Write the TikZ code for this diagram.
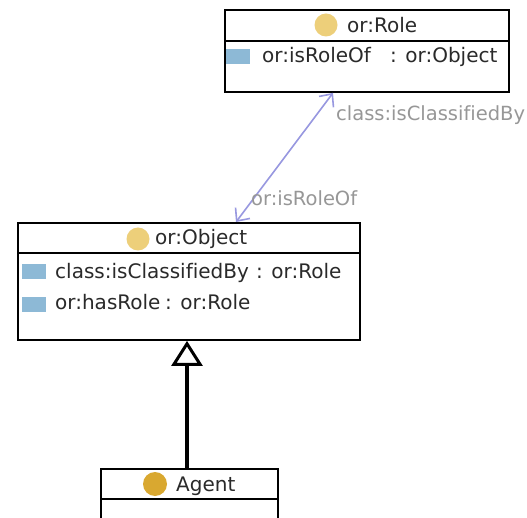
\documentclass[tikz,border=0pt]{standalone}
\usepackage{fontspec}
\setmainfont[Ligatures=NoCommon]{DejaVu Sans}
\usetikzlibrary{arrows.meta}
\definecolor{clsyel}{HTML}{EDCF7A}
\definecolor{agyel}{HTML}{D9A830}
\definecolor{attrblue}{HTML}{8DB9D6}
\definecolor{assoc}{HTML}{9898E0}
\definecolor{lblgray}{HTML}{979797}
\definecolor{txt}{HTML}{2A2A2A}
\begin{document}
\begin{tikzpicture}[x=1pt,y=-1pt,
  font=\fontsize{20}{24}\selectfont,
  classbox/.style={draw=black, line width=1.9pt, fill=white, inner sep=0pt, anchor=north west},
  divider/.style={draw=black, line width=1.9pt},
  clsicon/.style={circle, fill=clsyel, minimum size=23pt, inner sep=0pt},
  agicon/.style={circle, fill=agyel, minimum size=24pt, inner sep=0pt},
  attricon/.style={fill=attrblue, minimum width=24pt, minimum height=15pt, inner sep=0pt},
  txtnode/.style={anchor=base west, inner sep=0pt, text=txt},
  lbl/.style={anchor=base west, inner sep=0pt, text=lblgray, font=\fontsize{19.5}{24}\selectfont},
  assocline/.style={draw=assoc, line width=1.6pt, {Straight Barb[length=10pt,width=18pt]}-{Straight Barb[length=10pt,width=18pt]}},
  genline/.style={draw=black, line width=3.4pt, -{Triangle[open, length=25pt, width=31pt, line width=3pt]}}
]
\useasboundingbox (0,0) rectangle (527,518);
\clip (0,0) rectangle (527,518);
\fill[white] (0,0) rectangle (527,518);

% or:Role
\node[classbox, minimum width=284pt, minimum height=82pt] (role) at (224,9) {};
\draw[divider] (role.west |- 0,41) -- (role.east |- 0,41);
\node[clsicon] (roleicon) at (326,25) {};
\node[txtnode] (rolename) at (347,33) {or:Role};
\node[attricon] (ra1) at (238,57) {};
\node[txtnode] (ra1n) at (262,63) {or:isRoleOf};
\node[txtnode] (ra1t) at (390,63) {: or:Object};

% or:Object
\node[classbox, minimum width=342pt, minimum height=117pt] (obj) at (17,222) {};
\draw[divider] (obj.west |- 0,253) -- (obj.east |- 0,253);
\node[clsicon] (objicon) at (138,239) {};
\node[txtnode] (objname) at (155,245) {or:Object};
\node[attricon] (oa1) at (34,272) {};
\node[txtnode] (oa1n) at (55,279) {class:isClassifiedBy};
\node[txtnode] (oa1t) at (256,279) {: or:Role};
\node[attricon] (oa2) at (34,304.5) {};
\node[txtnode] (oa2n) at (55,310) {or:hasRole};
\node[txtnode] (oa2t) at (165,310) {: or:Role};

% Agent
\node[classbox, minimum width=177pt, minimum height=80pt] (agent) at (100,468) {};
\draw[divider] (agent.west |- 0,499) -- (agent.east |- 0,499);
\node[agicon] (agicn) at (155,484) {};
\node[txtnode] (agtext) at (176,491) {Agent};

% association
\draw[assocline] ([xshift=219pt]obj.north west) -- ([xshift=109pt]role.south west);
\node[lbl] (lblA) at (336,121) {class:isClassifiedBy};
\node[lbl] (lblB) at (251,206) {or:isRoleOf};

% generalization
\draw[genline] ([xshift=87pt]agent.north west) -- ([xshift=170pt]obj.south west);
\end{tikzpicture}
\end{document}
